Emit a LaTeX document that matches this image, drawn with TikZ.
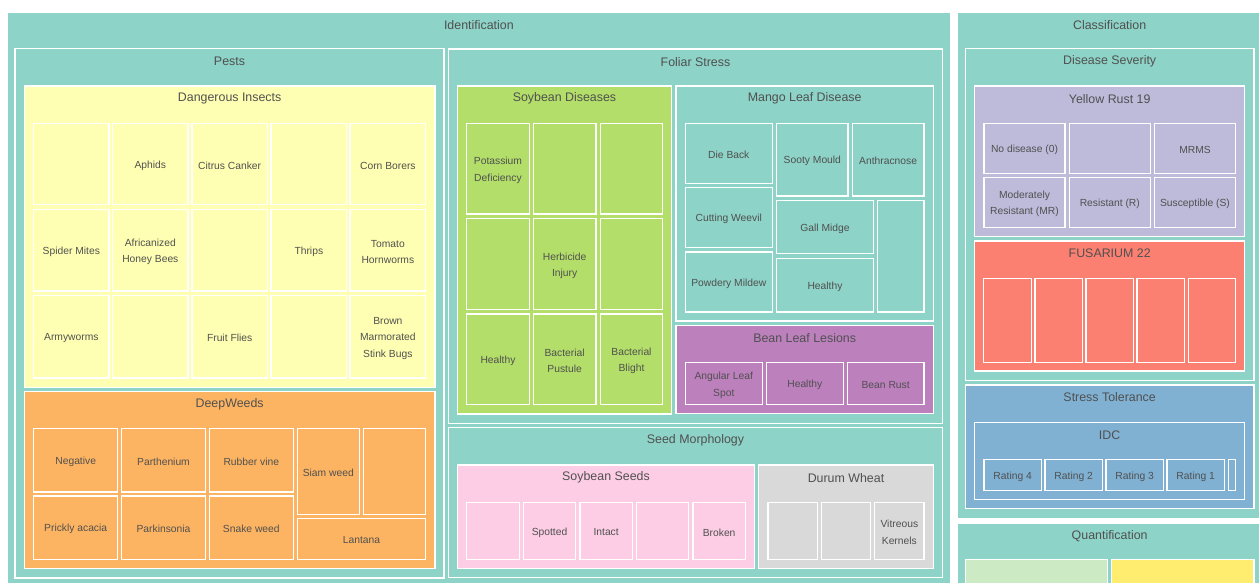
\documentclass[tikz,border=0pt]{standalone}
\usepackage{fontspec}
\setmainfont{Liberation Sans}
\definecolor{teal}{HTML}{8DD3C7}
\definecolor{yel}{HTML}{FFFFB3}
\definecolor{orng}{HTML}{FDB462}
\definecolor{grn}{HTML}{B3DE69}
\definecolor{purp}{HTML}{BC80BD}
\definecolor{pnk}{HTML}{FCCDE5}
\definecolor{gry}{HTML}{D9D9D9}
\definecolor{lav}{HTML}{BEBADA}
\definecolor{salm}{HTML}{FB8072}
\definecolor{blu}{HTML}{80B1D3}
\definecolor{mint}{HTML}{CCEBC5}
\definecolor{gold}{HTML}{FFED6F}
\definecolor{txt}{HTML}{505050}
\tikzset{
  bx/.style={draw=white,line width=1.4pt,inner sep=0pt,outer sep=0pt},
  lbl/.style={inner sep=0pt,align=center,text=txt,font=\fontsize{10.3}{16.3}\selectfont},
  ttl/.style={inner sep=0pt,text=txt,font=\fontsize{12.4}{14}\selectfont}
}
\newcommand{\R}[7]{\node[bx,fill=#6,minimum width={#4pt-#2pt},minimum height={#5pt-#3pt}] (#1) at ({(#2+#4)/2},{(#3+#5)/2}) {};
  \node[lbl] (#1-l) at ([yshift=-1.6pt]#1.center) {#7};}
\newcommand{\G}[7]{\node[bx,fill=#6,minimum width={#4pt-#2pt},minimum height={#5pt-#3pt}] (#1) at ({(#2+#4)/2},{(#3+#5)/2}) {};
  \node[ttl] (#1-t) at ([yshift=-12.6pt]#1.north) {#7};}
\begin{document}
\begin{tikzpicture}[x=1pt,y=-1pt]
\fill[white] (0,0) rectangle (1259,583);
\useasboundingbox (0,0) rectangle (1259,583);
% ---------- Identification
\G{ident}{7}{12}{950.7}{590}{teal}{Identification}
\G{pests}{15}{48.5}{444}{578}{teal}{Pests}
\G{insects}{24.3}{86}{435}{387.5}{yel}{Dangerous Insects}
\R{i11}{33.7}{123.3}{109}{204.7}{yel}{}
\R{i12}{112.7}{123.3}{188}{204.7}{yel}{Aphids}
\R{i13}{192}{123.3}{267.3}{204.7}{yel}{Citrus Canker}
\R{i14}{271}{123.3}{346.7}{204.7}{yel}{}
\R{i15}{350}{123.3}{425.7}{204.7}{yel}{Corn Borers}
\R{i21}{33.7}{209.3}{109}{291}{yel}{Spider Mites}
\R{i22}{112.7}{209.3}{188}{291}{yel}{Africanized\\Honey Bees}
\R{i23}{192}{209.3}{267.3}{291}{yel}{}
\R{i24}{271}{209.3}{346.7}{291}{yel}{Thrips}
\R{i25}{350}{209.3}{425.7}{291}{yel}{Tomato\\Hornworms}
\R{i31}{33.7}{295.3}{109}{378}{yel}{Armyworms}
\R{i32}{112.7}{295.3}{188}{378}{yel}{}
\R{i33}{192}{295.3}{267.3}{378}{yel}{Fruit Flies}
\R{i34}{271}{295.3}{346.7}{378}{yel}{}
\R{i35}{350}{295.3}{425.7}{378}{yel}{Brown\\Marmorated\\Stink Bugs}
\G{weeds}{24.3}{391.3}{435}{568.3}{orng}{DeepWeeds}
\R{w11}{33.7}{428.7}{117.7}{492}{orng}{Negative}
\R{w12}{121.7}{428.7}{205.3}{492}{orng}{Parthenium}
\R{w13}{209.3}{428.7}{293.3}{492}{orng}{Rubber vine}
\R{w21}{33.7}{496}{117.7}{559.3}{orng}{Prickly acacia}
\R{w22}{121.7}{496}{205.3}{559.3}{orng}{Parkinsonia}
\R{w23}{209.3}{496}{293.3}{559.3}{orng}{Snake weed}
\R{w14}{297.3}{428.7}{359.3}{514.3}{orng}{Siam weed}
\R{w15}{363.3}{428.7}{425.7}{514.3}{orng}{}
\R{w24}{297.3}{518.3}{425.7}{559.3}{orng}{Lantana}
% Foliar Stress
\G{foliar}{448.3}{49}{942.7}{423.3}{teal}{Foliar Stress}
\G{soyd}{457.3}{86}{671.7}{414}{grn}{Soybean Diseases}
\R{s11}{466.7}{123.3}{529.3}{214}{grn}{Potassium\\Deficiency}
\R{s12}{533.3}{123.3}{596}{214}{grn}{}
\R{s13}{600.3}{123.3}{662.7}{214}{grn}{}
\R{s21}{466.7}{218.7}{529.3}{309.3}{grn}{}
\R{s22}{533.3}{218.7}{596}{309.3}{grn}{Herbicide\\Injury}
\R{s23}{600.3}{218.7}{662.7}{309.3}{grn}{}
\R{s31}{466.7}{314}{529.3}{404.7}{grn}{Healthy}
\R{s32}{533.3}{314}{596}{404.7}{grn}{Bacterial\\Pustule}
\R{s33}{600.3}{314}{662.7}{404.7}{grn}{Bacterial\\Blight}
\G{mango}{676}{86}{933.3}{321}{teal}{Mango Leaf Disease}
\R{m1}{685.3}{123.3}{772.3}{183.3}{teal}{Die Back}
\R{m2}{685.3}{187.7}{772.3}{247.3}{teal}{Cutting Weevil}
\R{m3}{685.3}{252}{772.3}{312}{teal}{Powdery Mildew}
\R{m4}{776.7}{123.3}{848}{196}{teal}{Sooty Mould}
\R{m5}{852.3}{123.3}{924}{196}{teal}{Anthracnose}
\R{m6}{776.7}{200.7}{873.3}{253.7}{teal}{Gall Midge}
\R{m7}{776.7}{258.7}{873.3}{312}{teal}{Healthy}
\R{m8}{877.7}{200.7}{924}{312}{teal}{}
\G{bean}{676}{325.7}{933.3}{413.7}{purp}{Bean Leaf Lesions}
\R{b1}{685.3}{362.7}{762.3}{404.7}{purp}{Angular Leaf\\Spot}
\R{b2}{766.3}{362.7}{843.3}{404.7}{purp}{Healthy}
\R{b3}{847.3}{362.7}{924}{404.7}{purp}{Bean Rust}
% Seed Morphology
\G{seed}{448.3}{427.7}{942.7}{577.7}{teal}{Seed Morphology}
\G{soys}{457.3}{465}{754.7}{568.3}{pnk}{Soybean Seeds}
\R{p1}{466.7}{502.3}{519.3}{559.3}{pnk}{}
\R{p2}{523.3}{502.3}{575.7}{559.3}{pnk}{Spotted}
\R{p3}{580}{502.3}{632.3}{559.3}{pnk}{Intact}
\R{p4}{636.3}{502.3}{688.7}{559.3}{pnk}{}
\R{p5}{693}{502.3}{745.3}{559.3}{pnk}{Broken}
\G{durum}{758.7}{465}{933.3}{568.3}{gry}{Durum Wheat}
\R{d1}{768}{502.3}{817.3}{559.3}{gry}{}
\R{d2}{821.3}{502.3}{870.7}{559.3}{gry}{}
\R{d3}{874.7}{502.3}{924}{559.3}{gry}{Vitreous\\Kernels}
% ---------- Classification
\G{class}{957.3}{12}{1262}{518.3}{teal}{Classification}
\G{sev}{965.3}{48.7}{1254}{380.3}{teal}{Disease Severity}
\G{yr}{974.7}{86}{1244.7}{236.7}{lav}{Yellow Rust 19}
\R{y11}{984}{123.3}{1065}{173.3}{lav}{No disease (0)}
\R{y12}{1069.3}{123.3}{1150.3}{173.3}{lav}{}
\R{y13}{1154.3}{123.3}{1235.7}{173.3}{lav}{MRMS}
\R{y21}{984}{177.3}{1065}{227.7}{lav}{Moderately\\Resistant (MR)}
\R{y22}{1069.3}{177.3}{1150.3}{227.7}{lav}{Resistant (R)}
\R{y23}{1154.3}{177.3}{1235.7}{227.7}{lav}{Susceptible (S)}
\G{fus}{974.7}{241}{1244.7}{371}{salm}{FUSARIUM 22}
\R{f1}{983.7}{278.3}{1031.3}{362.3}{salm}{}
\R{f2}{1035}{278.3}{1082.3}{362.3}{salm}{}
\R{f3}{1086}{278.3}{1133.3}{362.3}{salm}{}
\R{f4}{1137}{278.3}{1184.3}{362.3}{salm}{}
\R{f5}{1188.3}{278.3}{1235.7}{362.3}{salm}{}
\G{stress}{965.3}{384.8}{1254}{508.7}{blu}{Stress Tolerance}
\G{idc}{974.5}{422.3}{1244.7}{499.7}{blu}{IDC}
\R{r1}{984}{459.3}{1041.3}{490.3}{blu}{Rating 4}
\R{r2}{1045}{459.3}{1102.3}{490.3}{blu}{Rating 2}
\R{r3}{1106}{459.3}{1163.3}{490.3}{blu}{Rating 3}
\R{r4}{1167}{459.3}{1224.3}{490.3}{blu}{Rating 1}
\R{r5}{1228.3}{459.3}{1235.7}{490.3}{blu}{}
% ---------- Quantification
\G{quant}{957.3}{523.3}{1262}{590}{teal}{Quantification}
\R{q1}{965.3}{559.5}{1107.7}{590}{mint}{}
\R{q2}{1111.7}{559.5}{1254}{590}{gold}{}
\end{tikzpicture}
\end{document}
